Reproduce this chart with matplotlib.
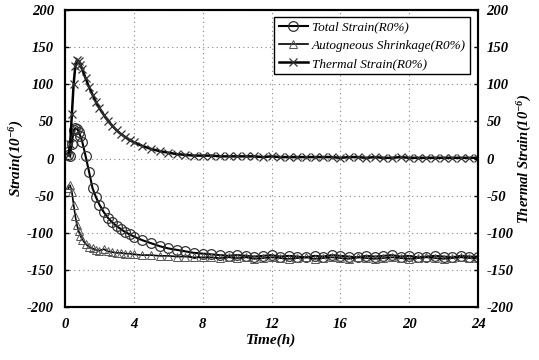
import matplotlib
matplotlib.use("Agg")
import matplotlib.pyplot as plt

# time (h)
time = [0.2, 0.3, 0.4, 0.5, 0.6, 0.7, 0.8, 0.9, 1.0, 1.2, 1.4, 1.6, 1.8, 2.0,
        2.25, 2.5, 2.75, 3.0, 3.25, 3.5, 3.75, 4.0, 4.5, 5.0, 5.5, 6.0, 6.5,
        7.0, 7.5, 8.0, 8.5, 9.0, 9.5, 10.0, 10.5, 11.0, 11.5, 12.0, 12.5, 13.0,
        13.5, 14.0, 14.5, 15.0, 15.5, 16.0, 16.5, 17.0, 17.5, 18.0, 18.5, 19.0,
        19.5, 20.0, 20.5, 21.0, 21.5, 22.0, 22.5, 23.0, 23.5, 24.0]

total_strain = [5, 3, 20, 38, 41, 40, 36, 30, 23, 3, -18, -40, -52, -62,
                -72, -80, -86, -91, -95, -99, -102, -105, -110, -114, -118, -121, -123,
                -125, -127, -128, -129, -130, -131, -130, -131, -132, -131, -130, -132, -131,
                -132, -133, -131, -132, -130, -131, -132, -133, -131, -132, -131, -130,
                -132, -131, -133, -132, -131, -132, -133, -131, -132, -132]

autogenous = [-40, -36, -45, -62, -78, -90, -98, -104, -109, -115, -119, -121, -123, -124,
              -122, -125, -126, -127, -127, -128, -128, -129, -130, -130, -131, -131, -132,
              -132, -133, -133, -133, -134, -133, -134, -133, -135, -134, -133, -134, -135,
              -134, -133, -135, -134, -133, -134, -135, -133, -134, -135, -134, -133,
              -134, -135, -134, -133, -134, -135, -134, -133, -134, -134]

thermal = [5, 20, 60, 100, 125, 133, 131, 126, 120, 108, 96, 86, 76, 68,
           59, 51, 44, 38, 33, 29, 25, 22, 17, 13, 10, 8, 6,
           5, 4, 4, 4, 3, 3, 3, 3, 3, 2, 3, 2, 2,
           2, 2, 2, 2, 2, 1, 2, 2, 1, 2, 1, 1,
           2, 1, 1, 1, 1, 1, 1, 1, 1, 1]

yticks = [-200, -150, -100, -50, 0, 50, 100, 150, 200]
xticks = [0, 4, 8, 12, 16, 20, 24]

plt.rcParams['font.family'] = 'Liberation Serif'
plt.rcParams['axes.unicode_minus'] = False
plt.rcParams['mathtext.fontset'] = 'custom'
plt.rcParams['mathtext.rm'] = 'Liberation Serif:italic:bold'
plt.rcParams['mathtext.it'] = 'Liberation Serif:italic:bold'
plt.rcParams['mathtext.default'] = 'rm'

fig = plt.figure(figsize=(5.39, 3.6), dpi=100)
ax = fig.add_axes([0.1206, 0.147, 0.7664, 0.825])

ax.plot(time, total_strain, color='black', lw=1.5, marker='o', ms=7,
        mfc='none', mec='#333333', mew=0.9, label='Total Strain(R0%)')
ax.plot(time, autogenous, color='black', lw=1.2, marker='^', ms=6,
        mfc='none', mec='#555555', mew=0.7, label='Autogneous Shrinkage(R0%)')
ax.plot(time, thermal, color='black', lw=1.8, marker='x', ms=6,
        mec='#333333', mew=0.9, label='Thermal Strain(R0%)')

ax.set_xlim(0, 24)
ax.set_ylim(-200, 200)
ax.set_xticks(xticks)
ax.set_yticks(yticks)
ax.grid(True, color='#888888', linestyle=(0, (1, 3)), linewidth=0.8)
ax.tick_params(direction='in', length=3, width=1, labelsize=10.5, pad=8)
ax.tick_params(axis='x', length=0)
for lab in ax.get_xticklabels() + ax.get_yticklabels():
    lab.set_fontweight('bold')
    lab.set_fontstyle('italic')
for s in ax.spines.values():
    s.set_linewidth(1.5)

ax.set_xlabel('Time(h)', fontsize=11, fontweight='bold', fontstyle='italic', labelpad=2)
ax.set_ylabel('Strain(10$^{-6}$)', fontsize=11, fontweight='bold', fontstyle='italic')
ax.yaxis.set_label_coords(-0.095, 0.5)

ax2 = ax.twinx()
ax2.set_ylim(-200, 200)
ax2.set_yticks(yticks)
ax2.tick_params(direction='in', length=3, width=1, labelsize=10.5, pad=6)
for lab in ax2.get_yticklabels():
    lab.set_fontweight('bold')
    lab.set_fontstyle('italic')
ax2.set_ylabel('Thermal Strain(10$^{-6}$)', fontsize=10.5, fontweight='bold',
               fontstyle='italic', labelpad=2)
for s in ax2.spines.values():
    s.set_linewidth(1.5)

leg = ax.legend(loc='upper right', bbox_to_anchor=(0.997, 1.0), fancybox=False,
                edgecolor='black', framealpha=1, borderpad=0.35, labelspacing=0.45,
                handlelength=2.2, handletextpad=0.3,
                prop={'family': 'Liberation Serif', 'style': 'italic', 'size': 9.5})
leg.get_frame().set_linewidth(1.0)

fig.savefig('out.png', dpi=100)
